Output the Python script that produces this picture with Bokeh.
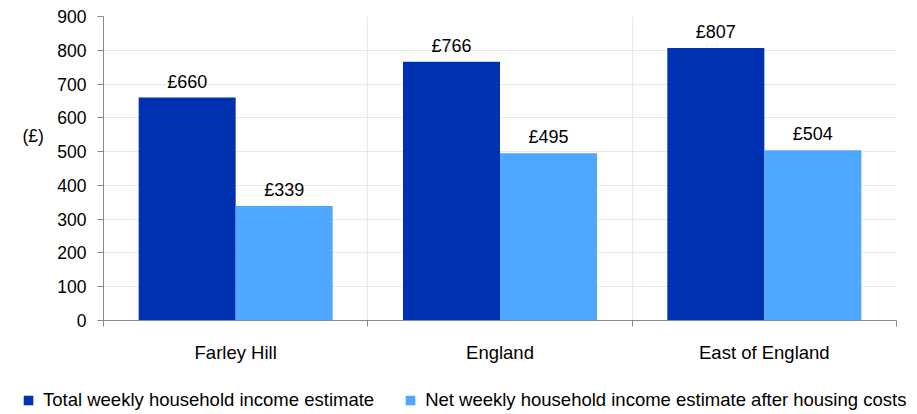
from bokeh.plotting import figure
from bokeh.models import (ColumnDataSource, Range1d, FixedTicker, Legend,
                          LegendItem, LabelSet, Label)
from bokeh.layouts import row, column
from bokeh.core.properties import value
from bokeh.embed import file_html
from bokeh.resources import INLINE

categories = ["Farley Hill", "England", "East of England"]
total_income = [660, 766, 807]
net_income = [339, 495, 504]
series_names = ["Total weekly household income estimate",
                "Net weekly household income estimate after housing costs"]
y_ticks = [0, 100, 200, 300, 400, 500, 600, 700, 800, 900]
unit_label = "(£)"

DARK = "#0031B0"
LIGHT = "#4FA7FF"
FONT = "Liberation Sans"
FS_Y = "17.5px"
FS = "18.5px"
FS_BAR = "18px"
AXIS = "#878787"

bar_w = 0.367
idx = list(range(len(categories)))
src1 = ColumnDataSource(dict(x=[i + 0.5 - bar_w / 2 for i in idx], y=total_income,
                             lab=[f"£{v}" for v in total_income]))
src2 = ColumnDataSource(dict(x=[i + 0.5 + bar_w / 2 for i in idx], y=net_income,
                             lab=[f"£{v}" for v in net_income]))

# ---- left strip with the unit label
lab_fig = figure(width=50, height=380, output_backend="svg", toolbar_location=None,
                 x_range=Range1d(0, 50), y_range=Range1d(0, 380),
                 x_axis_location=None, y_axis_location=None, min_border=0)
lab_fig.outline_line_color = None
lab_fig.grid.visible = False
lab_fig.add_layout(Label(x=22, y=231, text=unit_label, text_font=FONT, text_font_size=FS_Y,
                         text_baseline="middle", text_align="left", text_color="#000000"))

# ---- main chart
p = figure(width=867, height=380, output_backend="svg", toolbar_location=None,
           x_range=Range1d(0, len(categories)), y_range=Range1d(0, 900),
           min_border_left=53, min_border_right=21, min_border_top=16,
           min_border_bottom=60)
p.outline_line_color = None

p.vbar(x="x", top="y", width=bar_w, source=src1, fill_color=DARK, line_color=None)
p.vbar(x="x", top="y", width=bar_w, source=src2, fill_color=LIGHT, line_color=None)

for src in (src1, src2):
    p.add_layout(LabelSet(x="x", y="y", text="lab", source=src, text_align="center",
                          text_baseline="alphabetic", y_offset=10,
                          text_font=value(FONT), text_font_size=value(FS_BAR),
                          text_color="#000000"))

p.yaxis.ticker = FixedTicker(ticks=y_ticks)
p.yaxis.axis_line_color = AXIS
p.yaxis.major_tick_line_color = AXIS
p.yaxis.major_tick_out = 6
p.yaxis.major_tick_in = 0
p.yaxis.minor_tick_line_color = None
p.yaxis.major_label_text_font = FONT
p.yaxis.major_label_text_font_size = FS_Y
p.yaxis.major_label_text_color = "#000000"
p.yaxis.major_label_standoff = 11

centers = [i + 0.5 for i in idx]
p.xaxis.ticker = FixedTicker(ticks=centers, minor_ticks=[0] + [i + 1 for i in idx])
p.xaxis.major_label_overrides = {c: name for c, name in zip(centers, categories)}
p.xaxis.axis_line_color = AXIS
p.xaxis.major_tick_line_color = None
p.xaxis.minor_tick_line_color = AXIS
p.xaxis.minor_tick_out = 6
p.xaxis.minor_tick_in = 0
p.xaxis.major_label_text_font = FONT
p.xaxis.major_label_text_font_size = FS
p.xaxis.major_label_text_color = "#000000"
p.xaxis.major_label_standoff = 15

p.ygrid.ticker = FixedTicker(ticks=y_ticks[1:])
p.ygrid.grid_line_color = "#E8E8E8"
p.xgrid.ticker = FixedTicker(ticks=[i + 1 for i in idx])
p.xgrid.grid_line_color = "#E8E8E8"

# ---- legend strip
leg_fig = figure(width=917, height=34, output_backend="svg", toolbar_location=None,
                 x_range=Range1d(0, 1), y_range=Range1d(0, 1),
                 x_axis_location=None, y_axis_location=None, min_border=0)
leg_fig.outline_line_color = None
leg_fig.grid.visible = False
nan = float("nan")
g1 = leg_fig.vbar(x="x", top="top", width=0.1, source=ColumnDataSource(dict(x=[nan], top=[nan])),
                  fill_color=DARK, line_color=None)
g2 = leg_fig.vbar(x="x", top="top", width=0.1, source=ColumnDataSource(dict(x=[nan], top=[nan])),
                  fill_color=LIGHT, line_color=None)
legend = Legend(items=[LegendItem(label=series_names[0], renderers=[g1], index=0),
                       LegendItem(label=series_names[1], renderers=[g2], index=0)],
                orientation="horizontal", location=(22, 3),
                glyph_width=12, glyph_height=12, label_standoff=9, spacing=30,
                padding=0, margin=0, border_line_color=None,
                background_fill_alpha=0,
                label_text_font=FONT, label_text_font_size=FS,
                label_text_color="#000000")
leg_fig.add_layout(legend, "center")

layout = column(row(lab_fig, p, spacing=0), leg_fig, spacing=0)
open("out.html", "w").write(file_html(layout, INLINE))
